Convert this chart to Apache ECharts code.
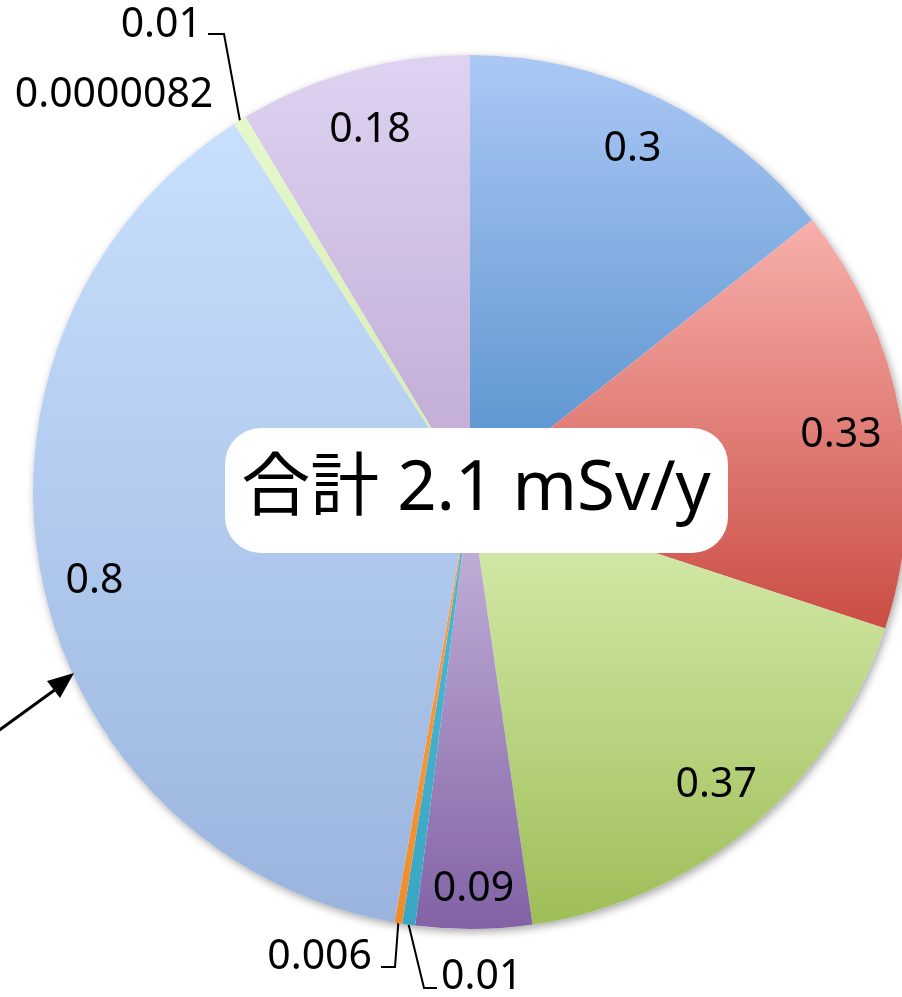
<!DOCTYPE html>
<html>
<head>
<meta charset="utf-8">
<script src="https://cdn.jsdelivr.net/npm/echarts@6/dist/echarts.min.js"></script>
<style>
  html, body { margin: 0; padding: 0; background: #fff; }
  #chart { width: 902px; height: 997px; }
</style>
</head>
<body>
<div id="chart"></div>
<script>
// Annual dose breakdown (mSv/y), clockwise from 12 o'clock
const values = [0.3, 0.33, 0.37, 0.09, 0.01, 0.006, 0.8, 0.0000082, 0.01, 0.18];
const labelTexts = ['0.3', '0.33', '0.37', '0.09', '0.01', '0.006', '0.8', '0.0000082', '0.01', '0.18'];
// slices whose value sits inside the slice; the rest get an outside label
const insideLabel = [true, true, true, true, false, false, true, false, false, true];
// gradient top / bottom colours per slice
const topColors = ['#abc8f5', '#f8b0ac', '#d9eeb2', '#c8b8de', '#52bcd6', '#f9a451', '#c8dffd', '#d2e6f8', '#e4f8ca', '#dfd2f1'];
const bottomColors = ['#5590cc', '#ca4d43', '#9ebe57', '#8262a5', '#38a5c3', '#ee8c2a', '#9ab4de', '#b9d0ee', '#d5ebb2', '#bea9d3'];
const totalLabel = '合計 ';
const unitLabel = ' mSv/y';

const CX = 470, CY = 492, R = 437;
const total = values.reduce((a, b) => a + b, 0);

function grad(i) {
  return {
    type: 'linear', x: 0, y: 0, x2: 0, y2: 1,
    colorStops: [{ offset: 0, color: topColors[i] }, { offset: 1, color: bottomColors[i] }]
  };
}

// point on the rim at the middle of slice i
function rimPoint(i) {
  let before = 0;
  for (let k = 0; k < i; k++) before += values[k];
  const mid = (before + values[i] / 2) / total * Math.PI * 2;
  return [CX + R * Math.sin(mid), CY - R * Math.cos(mid)];
}

// placement of outside labels and their leader lines
const outsideLayout = {
  8: { x: 202, y: 25, align: 'right', bend: [224, 34], end: [208, 34] },
  7: { x: 114, y: 95, align: 'center', bend: null },
  5: { x: 372, y: 957, align: 'right', bend: [395, 967], end: [381, 967] },
  4: { x: 441, y: 977, align: 'left', bend: [424, 988], end: [437, 988] }
};
// small nudges for the inside labels
const insideOffset = {
  0: [-4, 2], 1: [-6, 11], 3: [0, 14], 6: [0, 14], 9: [2, 7]
};

const mainData = values.map((v, i) => ({
  value: v,
  name: labelTexts[i],
  itemStyle: { color: grad(i) },
  label: { show: !insideLabel[i] },
  labelLine: { show: !insideLabel[i] && outsideLayout[i] && outsideLayout[i].bend !== null }
}));

const labelData = values.map((v, i) => ({
  value: v,
  name: labelTexts[i],
  label: { show: insideLabel[i], offset: insideOffset[i] || [0, 0] }
}));

const labelFont = {
  color: '#000',
  fontFamily: '"Noto Sans", "Noto Sans CJK JP", sans-serif',
  fontSize: 41,
  textBorderWidth: 0
};

const chart = echarts.init(document.getElementById('chart'), null, { renderer: 'canvas' });

chart.setOption({
  animation: false,
  backgroundColor: '#fff',
  series: [
    {
      // soft rim shadow under the pie
      type: 'pie',
      silent: true,
      z: 1,
      center: [CX, CY],
      radius: R,
      label: { show: false },
      labelLine: { show: false },
      itemStyle: {
        color: '#fff',
        shadowBlur: 8,
        shadowColor: 'rgba(0,0,0,0.35)',
        shadowOffsetX: 2,
        shadowOffsetY: 3
      },
      data: [{ value: 1 }]
    },
    {
      type: 'pie',
      z: 2,
      center: [CX, CY],
      radius: R,
      startAngle: 90,
      clockwise: true,
      avoidLabelOverlap: false,
      minShowLabelAngle: 0,
      emphasis: { disabled: true },
      itemStyle: { borderWidth: 0 },
      label: Object.assign({ position: 'outside', formatter: '{b}' }, labelFont),
      labelLine: { lineStyle: { color: '#000', width: 2 }, smooth: false },
      labelLayout: function (params) {
        const cfg = outsideLayout[params.dataIndex];
        if (!cfg) return {};
        const out = { x: cfg.x, y: cfg.y, align: cfg.align, verticalAlign: 'middle' };
        if (cfg.bend) {
          out.labelLinePoints = [rimPoint(params.dataIndex), cfg.bend, cfg.end];
        }
        return out;
      },
      data: mainData
    },
    {
      // value labels set near the rim of the larger slices
      type: 'pie',
      z: 3,
      silent: true,
      center: [CX, CY],
      radius: [323, R],
      startAngle: 90,
      clockwise: true,
      avoidLabelOverlap: false,
      emphasis: { disabled: true },
      itemStyle: { color: 'rgba(0,0,0,0)' },
      label: Object.assign({ position: 'inside', formatter: '{b}' }, labelFont),
      labelLine: { show: false },
      data: labelData
    }
  ],
  graphic: [
    {
      type: 'rect',
      z: 10,
      shape: { x: 225, y: 428, width: 503, height: 125, r: 36 },
      style: { fill: '#fff' }
    },
    {
      type: 'text',
      z: 11,
      x: 476,
      y: 490,
      style: {
        text: totalLabel + (Math.round(total * 10) / 10).toFixed(1) + unitLabel,
        fill: '#000',
        font: '69px "Noto Sans", "Noto Sans CJK JP", sans-serif',
        align: 'center',
        verticalAlign: 'middle'
      }
    },
    {
      // arrow pointing at the large slice from the left
      type: 'line',
      z: 10,
      shape: { x1: -2, y1: 731, x2: 56, y2: 689 },
      style: { stroke: '#000', lineWidth: 3 }
    },
    {
      type: 'polygon',
      z: 10,
      shape: { points: [[74, 673], [47, 681], [60, 698]] },
      style: { fill: '#000' }
    }
  ]
});
</script>
</body>
</html>
